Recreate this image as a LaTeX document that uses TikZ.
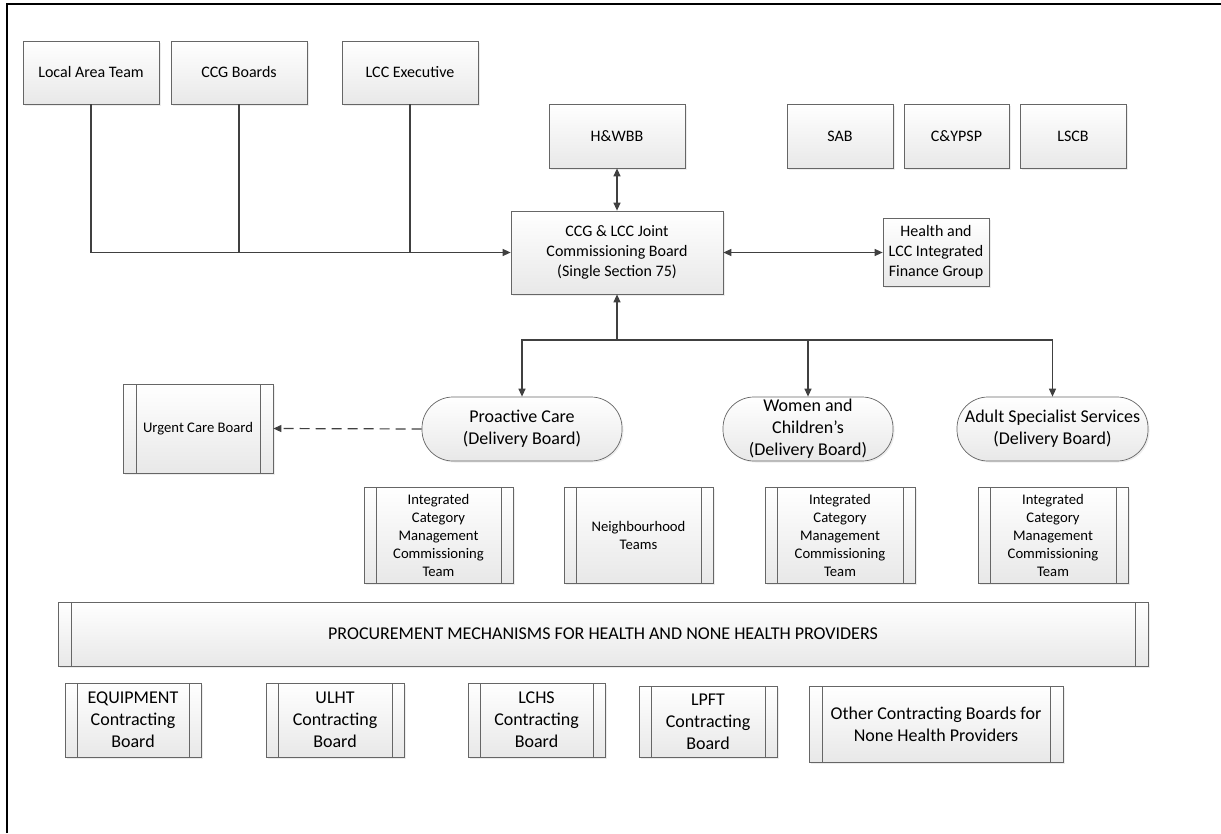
\documentclass[tikz,border=0pt]{standalone}
\usepackage{fontspec}
\setmainfont{Carlito}
\usetikzlibrary{arrows.meta,shadows}

\tikzset{
  smallfont/.style={font=\fontsize{14.67}{18}\selectfont},
  midfont/.style={font=\fontsize{16}{20}\selectfont},
  bigfont/.style={font=\fontsize{18}{22}\selectfont},
  boardbox/.style={draw=black!60, line width=0.7pt, top color=white, bottom color=black!9,
    drop shadow={shadow xshift=1.5pt, shadow yshift=-1.5pt, fill=black!14},
    align=center, inner sep=0pt, midfont},
  procbox/.style={boardbox, path picture={
      \draw[black!60, line width=0.7pt]
        ([xshift=#1]path picture bounding box.north west) -- ([xshift=#1]path picture bounding box.south west)
        ([xshift=-#1]path picture bounding box.north east) -- ([xshift=-#1]path picture bounding box.south east);}},
  procbox/.default=12.5pt,
  termbox/.style={boardbox, rounded corners=31pt, bigfont},
  connline/.style={draw=black!75, line width=1.2pt},
  headone/.style={-{Triangle[length=8pt,width=7pt]}},
  headtwo/.style={{Triangle[length=8pt,width=7pt]}-{Triangle[length=8pt,width=7pt]}},
}

\begin{document}
\begin{tikzpicture}[x=1pt,y=-1pt]
        \useasboundingbox (0,0) rectangle (1221,833);
        
        % Frame lines
        \draw [line width=1.5pt] (7,833) -- (7,4) -- (1221,4);%
        
        % Boards at the top
        \node [boardbox, minimum width=136pt, minimum height=63pt] (lat) at (91,72.5) {Local Area Team};%
        \node [boardbox, minimum width=136pt, minimum height=63pt] (ccgb) at (239,72.5) {CCG Boards};%
        \node [boardbox, minimum width=136pt, minimum height=63pt] (lccx) at (410,72.5) {LCC Executive};%
        \node [boardbox, minimum width=136pt, minimum height=64pt] (hwbb) at (617,136) {H\&WBB};%
        \node [boardbox, minimum width=106pt, minimum height=64pt] (sab) at (840,136) {SAB};%
        \node [boardbox, minimum width=105pt, minimum height=64pt] (cyp) at (956.5,136) {C\&YPSP};%
        \node [boardbox, minimum width=106pt, minimum height=64pt] (lscb) at (1073,136) {LSCB};%
        
        % Joint board and finance group
        \node [boardbox, minimum width=212pt, minimum height=83pt] (jcb) at (617,252.5)
              {CCG \& LCC Joint\\Commissioning Board\\(Single Section 75)};%
        \node [boardbox, minimum width=106pt, minimum height=68pt] (fin) at (936,252.5)
              {Health and\\LCC Integrated\\Finance Group};%
        
        % Delivery boards
        \node [procbox=13pt, smallfont, minimum width=150pt, minimum height=89pt] (ucb) at (198,428.5) {Urgent Care Board};%
        \node [termbox, minimum width=200pt, minimum height=64pt] (pcare) at (522,429)
              {Proactive Care\\(Delivery Board)};%
        \node [termbox, minimum width=170pt, minimum height=64pt] (wch) at (808,429)
              {Women and\\Children’s\\(Delivery Board)};%
        \node [termbox, minimum width=191pt, minimum height=64pt] (adult) at (1052.5,429)
              {Adult Specialist Services\\(Delivery Board)};%
        
        % Commissioning teams
        \node [procbox=12pt, smallfont, minimum width=149pt, minimum height=96pt] (icma) at (438.5,535)
              {Integrated\\Category\\Management\\Commissioning\\Team};%
        \node [procbox=12pt, smallfont, minimum width=149pt, minimum height=96pt] (nbh) at (638.5,535)
              {Neighbourhood\\Teams};%
        \node [procbox=12pt, smallfont, minimum width=150pt, minimum height=96pt] (icmb) at (840,535)
              {Integrated\\Category\\Management\\Commissioning\\Team};%
        \node [procbox=12pt, smallfont, minimum width=150pt, minimum height=96pt] (icmc) at (1053,535)
              {Integrated\\Category\\Management\\Commissioning\\Team};%
        
        % Procurement bar
        \node [procbox=13pt, bigfont, minimum width=1090pt, minimum height=64pt] (proc) at (603,634)
              {PROCUREMENT MECHANISMS FOR HEALTH AND NONE HEALTH PROVIDERS};%
        
        % Contracting boards
        \node [procbox=12pt, bigfont, minimum width=136pt, minimum height=74pt] (equip) at (133,720)
              {EQUIPMENT\\Contracting\\Board};%
        \node [procbox=12pt, bigfont, minimum width=138pt, minimum height=74pt] (ulht) at (335,720)
              {ULHT\\Contracting\\Board};%
        \node [procbox=12pt, bigfont, minimum width=137pt, minimum height=74pt] (lchs) at (536.5,720)
              {LCHS\\Contracting\\Board};%
        \node [procbox=12pt, bigfont, minimum width=138pt, minimum height=71pt] (lpft) at (708,721.5)
              {LPFT\\Contracting\\Board};%
        \node [procbox=13pt, bigfont, minimum width=254pt, minimum height=76pt] (other) at (936,724)
              {Other Contracting Boards for\\None Health Providers};%
        
        % Lines into the joint board
        \draw [connline, headone] (lat.south) |- (jcb.west);%
        \draw [connline] (ccgb.south) -- (ccgb.south |- jcb.west);%
        \draw [connline] (lccx.south) -- (lccx.south |- jcb.west);%
        \draw [connline, headtwo] (hwbb.south) -- (jcb.north);%
        \draw [connline, headtwo] (jcb.east) -- (fin.west);%
        
        % Lines to the delivery boards
        \coordinate (split) at (617,340);
        \draw [connline, headone] (split) -- (jcb.south);%
        \draw [connline, headone] (split) -| (pcare.north);%
        \draw [connline, headone] (split) -| (adult.north);%
        \draw [connline, headone] (wch.north |- split) -- (wch.north);%
        \draw [connline, headone, dash pattern=on 10pt off 6pt] (pcare.west) -- (ucb.east);%
\end{tikzpicture}
\end{document}
